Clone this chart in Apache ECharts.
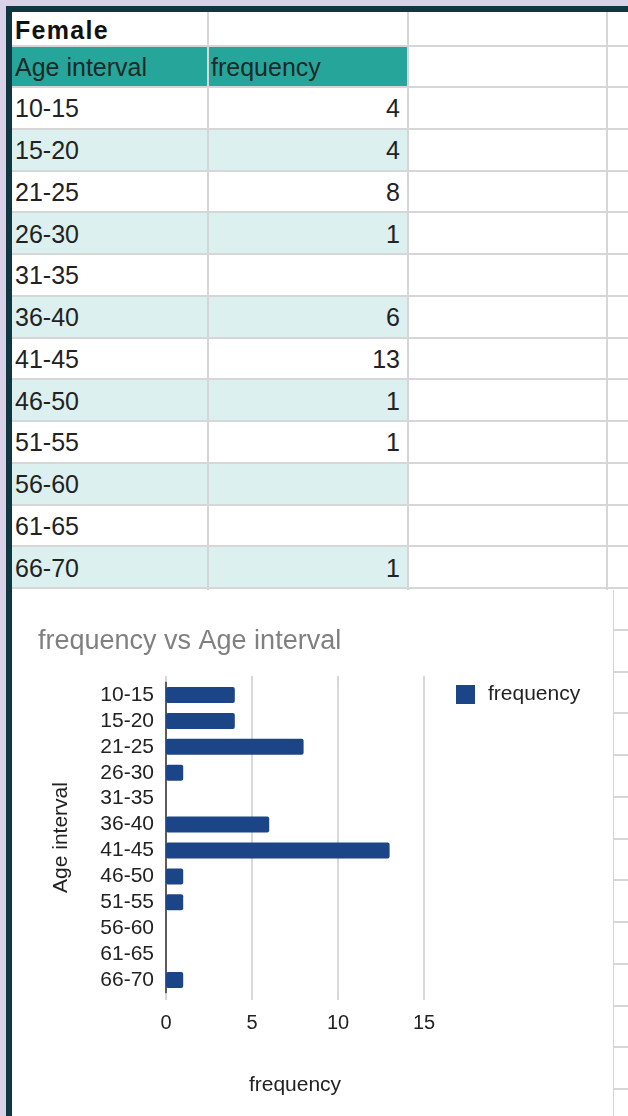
<!DOCTYPE html>
<html>
<head>
<meta charset="utf-8">
<script src="https://cdn.jsdelivr.net/npm/echarts@6/dist/echarts.min.js"></script>
<style>
  html, body { margin: 0; padding: 0; }
  body {
    width: 628px; height: 1116px; position: relative; overflow: hidden;
    background: #d9d2e9;
    font-family: "Liberation Sans", Arial, sans-serif;
  }
  #frame { position: absolute; left: 6px; top: 6px; width: 622px; height: 1110px; background: #10363f; }
  #sheet { position: absolute; left: 12px; top: 12px; width: 616px; height: 1104px; background: #fff; overflow: hidden; }
  .cell {
    position: absolute; box-sizing: border-box; font-size: 25px; color: #222;
    white-space: nowrap; padding: 2px 4px 0 3px; display: flex; align-items: center;
  }
  .num { justify-content: flex-end; padding-right: 8px; }
  .hl { position: absolute; left: 0; width: 616px; height: 2px; background: #d6d6d6; }
  .vl { position: absolute; top: 0; width: 2px; height: 1104px; background: #d6d6d6; }
  #chart { position: absolute; left: 0; top: 578px; width: 601px; height: 526px; background: #fff; border-right: 1px solid #d4d4d4; }
</style>
</head>
<body>
<div id="frame"></div>
<div id="sheet"><div id="chart"></div></div>
<script>
// Female age distribution
const sheetTitle = 'Female';
const headers = ['Age interval', 'frequency'];
const categories = ['10-15', '15-20', '21-25', '26-30', '31-35', '36-40', '41-45', '46-50', '51-55', '56-60', '61-65', '66-70'];
const frequency = [4, 4, 8, 1, null, 6, 13, 1, 1, null, null, 1];
const chartTitle = 'frequency vs Age interval';

// ---- spreadsheet part ----
const sheet = document.getElementById('sheet');
const chartEl = document.getElementById('chart');
const colX = [0, 196, 396, 595, 616];
const rowY = [0, 34, 75];
const rowH = 41.75;
for (let i = 1; i <= 25; i++) rowY.push(75 + rowH * i);

function addCell(x, y, w, h, text, cls, bg, extra) {
  const d = document.createElement('div');
  d.className = 'cell ' + (cls || '');
  d.style.left = x + 'px'; d.style.top = y + 'px';
  d.style.width = w + 'px'; d.style.height = h + 'px';
  if (bg) d.style.background = bg;
  if (extra) Object.assign(d.style, extra);
  d.textContent = text;
  sheet.insertBefore(d, chartEl);
}

addCell(0, 0, 196, 34, sheetTitle, '', null, { fontWeight: 'bold', letterSpacing: '1.3px', color: '#111' });
addCell(0, 34, 196, 41, headers[0], '', '#26a69a', { color: '#1d2a28' });
addCell(196, 34, 200, 41, headers[1], '', '#26a69a', { color: '#1d2a28' });
categories.forEach((c, i) => {
  const y = 75 + rowH * i;
  const bg = i % 2 === 1 ? '#dcf0ef' : null;
  addCell(0, y, 196, rowH, c, '', bg);
  addCell(196, y, 200, rowH, frequency[i] == null ? '' : String(frequency[i]), 'num', bg);
});
// grid lines
rowY.slice(1).forEach(y => {
  const l = document.createElement('div'); l.className = 'hl'; l.style.top = (y - 1) + 'px';
  sheet.insertBefore(l, chartEl);
});
colX.slice(1, 4).forEach(x => {
  const l = document.createElement('div'); l.className = 'vl'; l.style.left = (x - 1) + 'px';
  sheet.insertBefore(l, chartEl);
});

// ---- chart ----
const chart = echarts.init(chartEl, null, { renderer: 'canvas' });
const font = 'Liberation Sans, Arial, sans-serif';
const gridColor = '#cccccc';
chart.setOption({
  animation: false,
  textStyle: { fontFamily: font },
  title: {
    text: chartTitle, left: 21, top: 33,
    textStyle: { fontSize: 27, fontWeight: 'normal', color: '#808080', fontFamily: font }
  },
  legend: {
    data: ['frequency'], left: 439, top: 89, icon: 'rect',
    itemWidth: 19, itemHeight: 19,
    textStyle: { fontSize: 21, color: '#222', padding: [0, 0, 0, 8], fontFamily: font }
  },
  grid: { left: 154, top: 92, width: 258, height: 311, containLabel: false },
  xAxis: [
    {
      type: 'value', min: 0, max: 15, interval: 5,
      axisLine: { show: false },
      axisTick: { show: true, length: 7, lineStyle: { color: gridColor, width: 1.5 } },
      axisLabel: { fontSize: 20, color: '#222', margin: 20, fontFamily: font },
      splitLine: { lineStyle: { color: gridColor, width: 1.5 } },
      name: 'frequency', nameLocation: 'middle', nameGap: 82,
      nameTextStyle: { fontSize: 21, color: '#222', fontFamily: font }
    },
    {
      type: 'value', position: 'top', min: 0, max: 15, interval: 5,
      axisLine: { show: false },
      axisTick: { show: true, length: 6, lineStyle: { color: gridColor, width: 1.5 } },
      axisLabel: { show: false },
      splitLine: { show: false }
    }
  ],
  yAxis: {
    type: 'category', data: categories, inverse: true,
    axisLine: { lineStyle: { color: '#333', width: 1.5 } },
    axisTick: { show: false },
    axisLabel: { interval: 0, fontSize: 21, color: '#222', margin: 12, fontFamily: font },
    name: 'Age interval', nameLocation: 'middle', nameGap: 94, nameRotate: 90,
    nameTextStyle: { fontSize: 21, color: '#222', fontFamily: font }
  },
  series: [{
    type: 'bar', name: 'frequency', data: frequency, barWidth: 16,
    itemStyle: { color: '#1c4587', borderRadius: 2 }
  }]
});
</script>
</body>
</html>
